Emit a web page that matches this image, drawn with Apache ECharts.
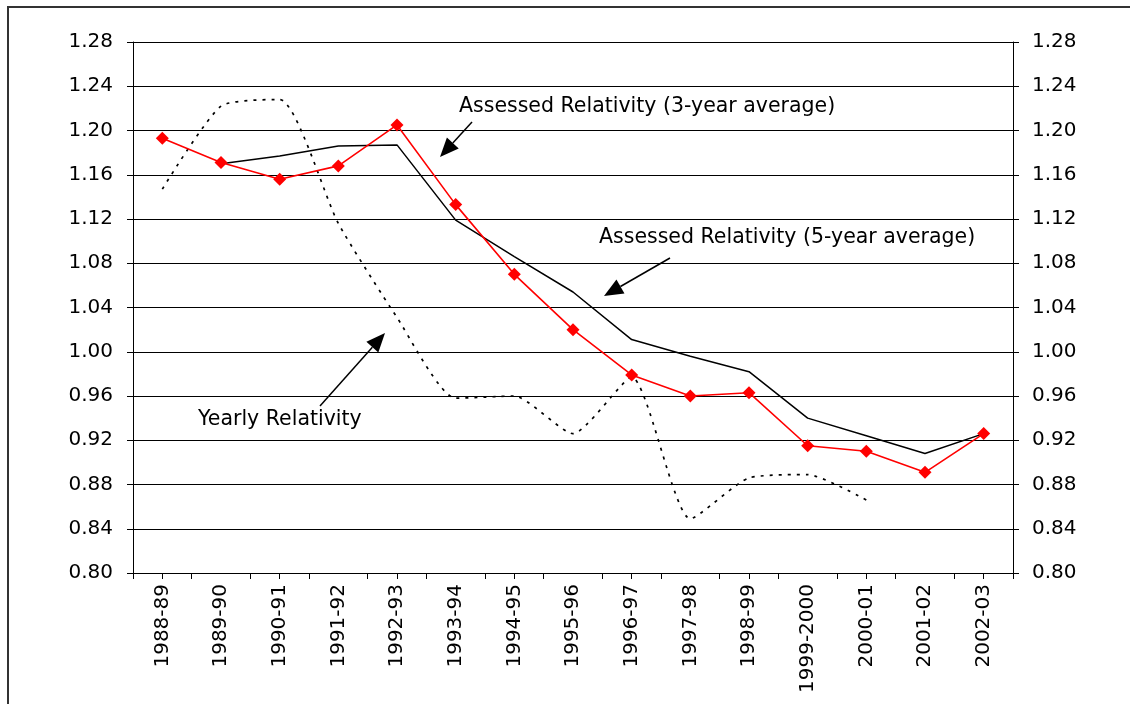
<!DOCTYPE html>
<html>
<head>
<meta charset="utf-8">
<script src="https://cdn.jsdelivr.net/npm/echarts@6/dist/echarts.min.js"></script>
<style>html,body{margin:0;padding:0;background:#fff}#c{width:1130px;height:704px}</style>
</head>
<body>
<div id="c"></div>
<script>
const categories = ['1988-89','1989-90','1990-91','1991-92','1992-93','1993-94','1994-95','1995-96','1996-97','1997-98','1998-99','1999-2000','2000-01','2001-02','2002-03'];
const threeYear = [1.193,1.171,1.156,1.168,1.205,1.133,1.070,1.020,0.979,0.960,0.963,0.915,0.910,0.891,0.926];
const fiveYear = [null,1.170,1.177,1.186,1.187,1.119,1.086,1.054,1.011,0.996,0.982,0.940,0.924,0.908,0.926];
const yearly = [1.147,1.222,1.228,1.116,1.031,0.958,0.960,0.926,0.977,0.849,0.886,0.889,0.866,null,null];
const yTicks = {min:0.80, max:1.28, interval:0.04};
const labels = {
  three: 'Assessed Relativity (3-year average)',
  five: 'Assessed Relativity (5-year average)',
  yearly: 'Yearly Relativity'
};

const FONT = 'DejaVu Sans';
const chart = echarts.init(document.getElementById('c'));

function arrow(x1,y1,x2,y2){
  const dx=x2-x1, dy=y2-y1, L=Math.sqrt(dx*dx+dy*dy);
  const ux=dx/L, uy=dy/L, hl=19, hw=8;
  const bx=x2-ux*hl, by=y2-uy*hl;
  return [
    {type:'line', shape:{x1:x1,y1:y1,x2:bx,y2:by}, style:{stroke:'#000', lineWidth:1.5}, z:10},
    {type:'polygon', shape:{points:[[x2,y2],[bx-uy*hw,by+ux*hw],[bx+uy*hw,by-ux*hw]]}, style:{fill:'#000'}, z:10}
  ];
}
function txt(s,x,y){
  return {type:'text', x:x, y:y, style:{text:s, fontSize:20.5, fontFamily:FONT, fill:'#000', textVerticalAlign:'middle'}, z:10};
}

const axisLabelStyle = {fontSize:20, fontFamily:FONT, color:'#000'};

chart.setOption({
  animation:false,
  backgroundColor:'#fff',
  grid:{left:133, top:42, right:117, bottom:131},
  xAxis:[{
    type:'category', data:categories, boundaryGap:true,
    axisLine:{show:true, lineStyle:{color:'#000', width:1}},
    axisTick:{show:true, length:6, lineStyle:{color:'#000'}},
    axisLabel:Object.assign({rotate:90, margin:11, interval:0}, axisLabelStyle),
    splitLine:{show:false}
  },{
    type:'category', data:categories, boundaryGap:true, position:'bottom',
    axisLine:{show:false},
    axisTick:{show:true, alignWithLabel:true, length:6, lineStyle:{color:'#000'}},
    axisLabel:{show:false}, splitLine:{show:false}
  }],
  yAxis:[{
    type:'value', min:yTicks.min, max:yTicks.max, interval:yTicks.interval, position:'left',
    axisLine:{show:true, lineStyle:{color:'#000', width:1}},
    axisTick:{show:true, length:6, lineStyle:{color:'#000'}},
    axisLabel:Object.assign({margin:20, formatter:v=>v.toFixed(2)}, axisLabelStyle),
    splitLine:{show:true, lineStyle:{color:'#000', width:1}}
  },{
    type:'value', min:yTicks.min, max:yTicks.max, interval:yTicks.interval, position:'right',
    axisLine:{show:true, lineStyle:{color:'#000', width:1}},
    axisTick:{show:true, length:6, lineStyle:{color:'#000'}},
    axisLabel:Object.assign({margin:19, formatter:v=>v.toFixed(2)}, axisLabelStyle),
    splitLine:{show:false}
  }],
  series:[{
    name:'Yearly', type:'line', data:yearly, smooth:0.2, showSymbol:false, symbol:'none',
    lineStyle:{color:'#000', width:1.7, type:[3,6]}, z:2
  },{
    name:'5-year', type:'line', data:fiveYear, showSymbol:false, symbol:'none',
    lineStyle:{color:'#000', width:1.5}, z:3
  },{
    name:'3-year', type:'line', data:threeYear, symbol:'diamond', symbolSize:13,
    itemStyle:{color:'#ff0000'}, lineStyle:{color:'#ff0000', width:1.6}, z:4
  }],
  graphic:[
    {type:'rect', shape:{x:8,y:7,width:1300,height:900}, style:{fill:'none', stroke:'#333', lineWidth:2}, z:0, silent:true},
    txt(labels.three, 459, 107),
    txt(labels.five, 599, 238),
    txt(labels.yearly, 198, 420)
  ].concat(arrow(472,122,440,157), arrow(670,258,604,296), arrow(320,406,385,333))
});
</script>
</body>
</html>
